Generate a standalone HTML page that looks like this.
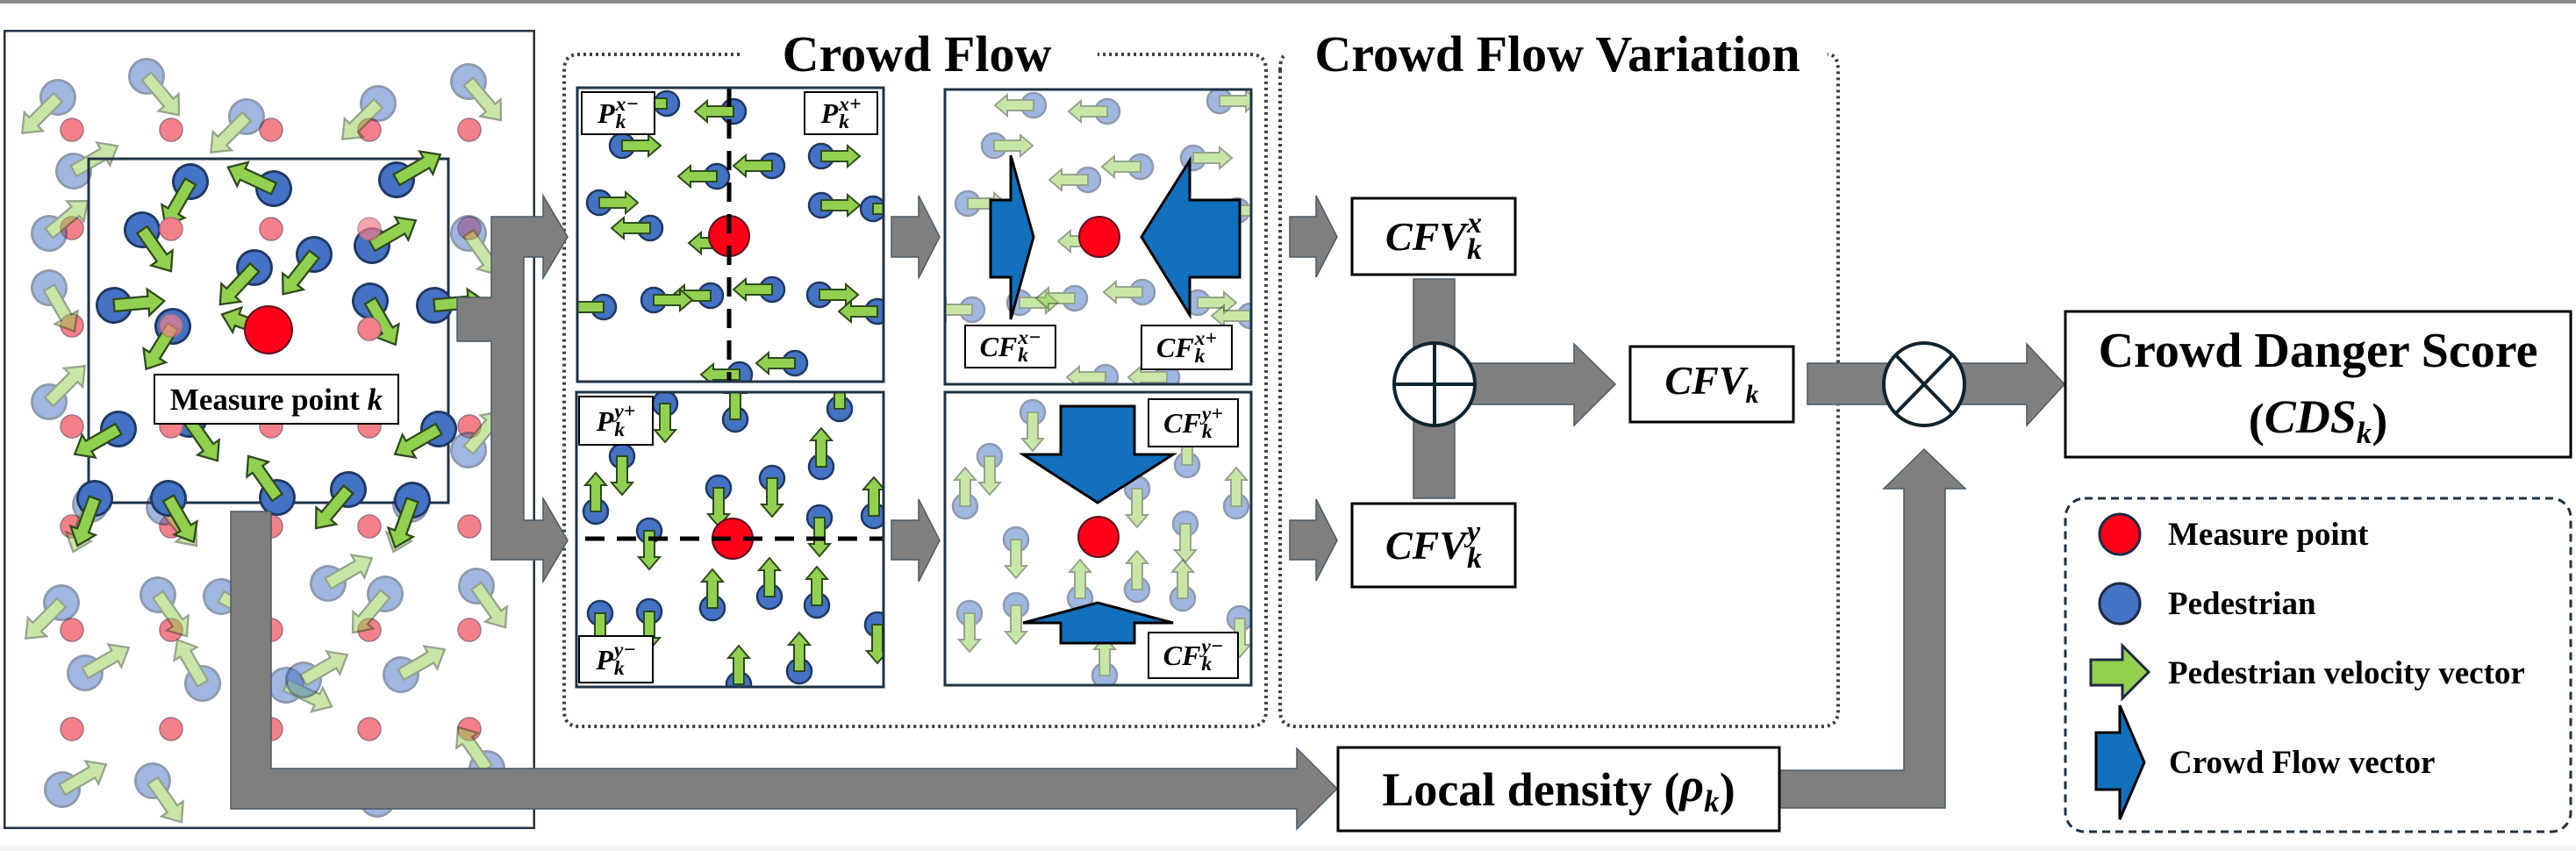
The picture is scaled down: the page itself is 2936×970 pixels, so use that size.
<!DOCTYPE html>
<html><head><meta charset="utf-8">
<style>
html,body{margin:0;padding:0;background:#fff;}
#root{position:relative;width:2936px;height:970px;overflow:hidden;background:#fff;font-family:"Liberation Serif",serif;}
svg{position:absolute;left:0;top:0;}
.t{position:absolute;display:flex;align-items:center;justify-content:center;font-weight:bold;color:#000;white-space:nowrap;line-height:1;}
.m{font-style:italic;font-weight:bold;}
.ss{display:inline-flex;flex-direction:column;font-size:.74em;line-height:.86;vertical-align:middle;margin-left:1px;text-align:left;}
.lg{position:absolute;font-weight:bold;font-size:37px;line-height:1;white-space:nowrap;}
</style></head><body><div id="root">
<svg width="2936" height="970" viewBox="0 0 2936 970" xmlns="http://www.w3.org/2000/svg">
<defs>
<g id="pd"><g transform="scale(1.15)"><circle cx="0" cy="0" r="17" fill="#4472c4" stroke="#1f3864" stroke-width="2.5"/><path d="M0,-6 H34 V-13 L50,0 L34,13 V6 H0 Z" fill="#92d050" stroke="#2f4a1e" stroke-width="2"/></g></g>
<g id="pf" opacity="0.5"><g transform="scale(1.15)"><circle cx="0" cy="0" r="17" fill="#4472c4" stroke="#1f3864" stroke-width="2.5"/><path d="M0,-6 H34 V-13 L50,0 L34,13 V6 H0 Z" fill="#92d050" stroke="#2f4a1e" stroke-width="2"/></g></g>
<g id="ps"><circle cx="0" cy="0" r="14" fill="#4472c4" stroke="#1f3864" stroke-width="2.5"/><path d="M0,-6 H30 V-12 L44,0 L30,12 V6 H0 Z" fill="#92d050" stroke="#2f4a1e" stroke-width="2"/></g>
<g id="psf" opacity="0.5"><circle cx="0" cy="0" r="14" fill="#4472c4" stroke="#1f3864" stroke-width="2.5"/><path d="M0,-6 H30 V-12 L44,0 L30,12 V6 H0 Z" fill="#92d050" stroke="#2f4a1e" stroke-width="2"/></g>
<circle id="pk" r="13" fill="#f4808a" stroke="#a07080" stroke-width="1.5"/>
</defs>
<rect x="0" y="0" width="2936" height="4" fill="#8a8a8a"/>
<rect x="0" y="964" width="2936" height="6" fill="#f2f2f2"/>

<svg x="4" y="34" width="606" height="911" viewBox="4 34 606 911">
<g>
<use href="#pk" x="82" y="148"/><use href="#pk" x="195" y="148"/><use href="#pk" x="309" y="148"/><use href="#pk" x="421" y="148"/><use href="#pk" x="535" y="148"/>
<use href="#pk" x="82" y="260"/><use href="#pk" x="535" y="260"/>
<use href="#pk" x="82" y="371"/><use href="#pk" x="535" y="371"/>
<use href="#pk" x="82" y="486"/><use href="#pk" x="535" y="486"/>
<use href="#pk" x="82" y="600"/><use href="#pk" x="195" y="600"/><use href="#pk" x="309" y="600"/><use href="#pk" x="421" y="600"/><use href="#pk" x="535" y="600"/>
<use href="#pk" x="82" y="718"/><use href="#pk" x="195" y="718"/><use href="#pk" x="309" y="718"/><use href="#pk" x="421" y="718"/><use href="#pk" x="535" y="718"/>
<use href="#pk" x="82" y="831"/><use href="#pk" x="195" y="831"/><use href="#pk" x="309" y="831"/><use href="#pk" x="421" y="831"/><use href="#pk" x="535" y="831"/>
</g>
<g>
<use href="#pf" transform="translate(66,111) rotate(135)"/>
<use href="#pf" transform="translate(167,87) rotate(50)"/>
<use href="#pf" transform="translate(431,118) rotate(135)"/>
<use href="#pf" transform="translate(534,93) rotate(50)"/>
<use href="#pf" transform="translate(281,133) rotate(135)"/>
<use href="#pf" transform="translate(84,195) rotate(-30)"/>
<use href="#pf" transform="translate(56,266) rotate(-40)"/>
<use href="#pf" transform="translate(56,328) rotate(60)"/>
<use href="#pf" transform="translate(534,266) rotate(55)"/>
<use href="#pf" transform="translate(56,458) rotate(-45)"/>
<use href="#pf" transform="translate(534,513) rotate(-50)"/>
<use href="#pf" transform="translate(103,575) rotate(110)"/>
<use href="#pf" transform="translate(187,578) rotate(50)"/>
<use href="#pf" transform="translate(468,575) rotate(110)"/>
<use href="#pf" transform="translate(70,687) rotate(135)"/>
<use href="#pf" transform="translate(180,678) rotate(55)"/>
<use href="#pf" transform="translate(252,680) rotate(30)"/>
<use href="#pf" transform="translate(374,665) rotate(-30)"/>
<use href="#pf" transform="translate(439,677) rotate(130)"/>
<use href="#pf" transform="translate(543,668) rotate(55)"/>
<use href="#pf" transform="translate(97,767) rotate(-30)"/>
<use href="#pf" transform="translate(231,779) rotate(-120)"/>
<use href="#pf" transform="translate(326,781) rotate(25)"/>
<use href="#pf" transform="translate(346,775) rotate(-30)"/>
<use href="#pf" transform="translate(457,769) rotate(-30)"/>
<use href="#pf" transform="translate(555,876) rotate(-125)"/>
<use href="#pf" transform="translate(71,900) rotate(-30)"/>
<use href="#pf" transform="translate(174,890) rotate(55)"/>
<use href="#pf" transform="translate(430,911) rotate(-30)"/>
</g>
<rect x="101" y="181" width="410" height="392" fill="none" stroke="#1f3344" stroke-width="3"/>
<g>
<use href="#pd" transform="translate(217,207) rotate(120)"/>
<use href="#pd" transform="translate(312,215) rotate(-155)"/>
<use href="#pd" transform="translate(452,205) rotate(-30)"/>
<use href="#pd" transform="translate(162,262) rotate(55)"/>
<use href="#pd" transform="translate(424,280) rotate(-30)"/>
<use href="#pd" transform="translate(358,290) rotate(128)"/>
<use href="#pd" transform="translate(290,305) rotate(133)"/>
<use href="#pd" transform="translate(130,348) rotate(-5)"/>
<use href="#pd" transform="translate(422,343) rotate(60)"/>
<use href="#pd" transform="translate(495,348) rotate(-5)"/>
<use href="#pd" transform="translate(197,372) rotate(122)"/>
<use href="#pd" transform="translate(307,378) rotate(-160)"/>
<use href="#pd" transform="translate(135,489) rotate(150)"/>
<use href="#pd" transform="translate(215,478) rotate(55)"/>
<use href="#pd" transform="translate(500,489) rotate(150)"/>
<use href="#pd" transform="translate(316,567) rotate(-125)"/>
<use href="#pd" transform="translate(397,558) rotate(130)"/>
<use href="#pd" transform="translate(192,568) rotate(60)"/>
<use href="#pd" transform="translate(108,568) rotate(110)"/>
<use href="#pd" transform="translate(470,570) rotate(110)"/>
<use href="#pk" x="195" y="261"/><use href="#pk" x="309" y="261"/><use href="#pk" x="421" y="261" opacity=".7"/>
<use href="#pk" x="195" y="371" opacity=".7"/><use href="#pk" x="421" y="375"/>
<use href="#pk" x="195" y="486"/><use href="#pk" x="309" y="486"/><use href="#pk" x="421" y="486"/>
<circle cx="306" cy="376" r="27" fill="#ff0018" stroke="#5a1020" stroke-width="2"/>
</g>
<rect x="4" y="34" width="606" height="911" fill="none" stroke="#1f3344" stroke-width="5"/>
</svg>
<rect x="176" y="427" width="278" height="56" fill="#fff" stroke="#000" stroke-width="2"/>

<path d="M843,62 H660 Q643,62 643,80 V810 Q643,828 660,828 H1425 Q1443,828 1443,810 V80 Q1443,62 1425,62 H1251" fill="none" stroke="#404040" stroke-width="4" stroke-dasharray="3 4"/>
<path d="M1459,80 V810 Q1459,828 1477,828 H2077 Q2095,828 2095,810 V80 Q2095,62 2083,62" fill="none" stroke="#404040" stroke-width="4" stroke-dasharray="3 4"/>
<path d="M1459,80 Q1459,64 1466,62" fill="none" stroke="#404040" stroke-width="4" stroke-dasharray="3 4"/>

<svg x="658" y="100" width="349" height="335" viewBox="658 100 349 335">
<use href="#ps" transform="translate(760,118) rotate(180)"/>
<use href="#ps" transform="translate(836,127) rotate(180)"/>
<use href="#ps" transform="translate(709,166)"/>
<use href="#ps" transform="translate(936,178)"/>
<use href="#ps" transform="translate(817,201) rotate(180)"/>
<use href="#ps" transform="translate(880,189) rotate(180)"/>
<use href="#ps" transform="translate(683,231)"/>
<use href="#ps" transform="translate(936,234)"/>
<use href="#ps" transform="translate(995,238)"/>
<use href="#ps" transform="translate(741,260) rotate(180)"/>
<use href="#ps" transform="translate(829,277) rotate(180)"/>
<use href="#ps" transform="translate(880,330) rotate(180)"/>
<use href="#ps" transform="translate(810,337) rotate(180)"/>
<use href="#ps" transform="translate(745,342)"/>
<use href="#ps" transform="translate(688,350) rotate(180)"/>
<use href="#ps" transform="translate(934,336)"/>
<use href="#ps" transform="translate(1000,355) rotate(180)"/>
<use href="#ps" transform="translate(843,427) rotate(180)"/>
<use href="#ps" transform="translate(906,414) rotate(180)"/>
<circle cx="831" cy="269" r="23" fill="#ff0018" stroke="#5a1020" stroke-width="2"/>
<line x1="831" y1="100" x2="831" y2="435" stroke="#000" stroke-width="5" stroke-dasharray="22 14"/>
<rect x="663" y="105" width="83" height="48" fill="#fff" stroke="#000" stroke-width="2"/>
<rect x="917" y="105" width="83" height="48" fill="#fff" stroke="#000" stroke-width="2"/>
</svg>
<rect x="658" y="100" width="349" height="335" fill="none" stroke="#1f3344" stroke-width="3"/>

<svg x="1077" y="102" width="349" height="336" viewBox="1077 102 349 336">
<use href="#psf" transform="translate(1178,120) rotate(180)"/>
<use href="#psf" transform="translate(1262,127) rotate(180)"/>
<use href="#psf" transform="translate(1390,115)"/>
<use href="#psf" transform="translate(1133,166)"/>
<use href="#psf" transform="translate(1300,190) rotate(180)"/>
<use href="#psf" transform="translate(1240,205) rotate(180)"/>
<use href="#psf" transform="translate(1360,180)"/>
<use href="#psf" transform="translate(1103,232)"/>
<use href="#psf" transform="translate(1250,275) rotate(180)"/>
<use href="#psf" transform="translate(1108,353) rotate(180)"/>
<use href="#psf" transform="translate(1162,345)"/>
<use href="#psf" transform="translate(1225,340) rotate(180)"/>
<use href="#psf" transform="translate(1302,333) rotate(180)"/>
<use href="#psf" transform="translate(1365,345)"/>
<use href="#psf" transform="translate(1425,360) rotate(180)"/>
<use href="#psf" transform="translate(1410,240)"/>
<use href="#psf" transform="translate(1260,430) rotate(180)"/>
<use href="#psf" transform="translate(1330,430) rotate(180)"/>
<circle cx="1253" cy="270" r="23" fill="#ff0018" stroke="#5a1020" stroke-width="2"/>
<path d="M1129,228 H1152 V177 L1178,270 L1152,364 V316 H1129 Z" fill="#1270bd" stroke="#000" stroke-width="3"/>
<path d="M1413,228 H1356 V183 L1301,270 L1356,359 V316 H1413 Z" fill="#1270bd" stroke="#000" stroke-width="3"/>
<rect x="1100" y="371" width="103" height="48" fill="#fff" stroke="#000" stroke-width="2"/>
<rect x="1301" y="371" width="103" height="50" fill="#fff" stroke="#000" stroke-width="2"/>
</svg>
<rect x="1077" y="102" width="349" height="336" fill="none" stroke="#1f3344" stroke-width="3"/>

<svg x="657" y="447" width="350" height="336" viewBox="657 447 350 336">
<use href="#ps" transform="translate(758,460) rotate(90)"/>
<use href="#ps" transform="translate(838,478) rotate(-90)"/>
<use href="#ps" transform="translate(957,466) rotate(-90)"/>
<use href="#ps" transform="translate(709,520) rotate(90)"/>
<use href="#ps" transform="translate(936,532) rotate(-90)"/>
<use href="#ps" transform="translate(819,556) rotate(90)"/>
<use href="#ps" transform="translate(880,545) rotate(90)"/>
<use href="#ps" transform="translate(679,583) rotate(-90)"/>
<use href="#ps" transform="translate(996,588) rotate(-90)"/>
<use href="#ps" transform="translate(740,605) rotate(90)"/>
<use href="#ps" transform="translate(934,590) rotate(90)"/>
<use href="#ps" transform="translate(812,693) rotate(-90)"/>
<use href="#ps" transform="translate(877,680) rotate(-90)"/>
<use href="#ps" transform="translate(931,690) rotate(-90)"/>
<use href="#ps" transform="translate(684,699) rotate(90)"/>
<use href="#ps" transform="translate(740,697) rotate(90)"/>
<use href="#ps" transform="translate(1000,712) rotate(90)"/>
<use href="#ps" transform="translate(842,780) rotate(-90)"/>
<use href="#ps" transform="translate(911,765) rotate(-90)"/>
<circle cx="835" cy="614" r="23" fill="#ff0018" stroke="#5a1020" stroke-width="2"/>
<line x1="667" y1="614" x2="1006" y2="614" stroke="#000" stroke-width="5" stroke-dasharray="22 14"/>
<rect x="660" y="452" width="84" height="55" fill="#fff" stroke="#000" stroke-width="2"/>
<rect x="660" y="725" width="84" height="53" fill="#fff" stroke="#000" stroke-width="2"/>
</svg>
<rect x="657" y="447" width="350" height="336" fill="none" stroke="#1f3344" stroke-width="3"/>

<svg x="1077" y="447" width="349" height="334" viewBox="1077 447 349 334">
<use href="#psf" transform="translate(1177,470) rotate(90)"/>
<use href="#psf" transform="translate(1128,520) rotate(90)"/>
<use href="#psf" transform="translate(1353,530) rotate(-90)"/>
<use href="#psf" transform="translate(1100,577) rotate(-90)"/>
<use href="#psf" transform="translate(1296,557) rotate(90)"/>
<use href="#psf" transform="translate(1409,577) rotate(-90)"/>
<use href="#psf" transform="translate(1158,615) rotate(90)"/>
<use href="#psf" transform="translate(1351,597) rotate(90)"/>
<use href="#psf" transform="translate(1105,699) rotate(90)"/>
<use href="#psf" transform="translate(1158,690) rotate(90)"/>
<use href="#psf" transform="translate(1231,682) rotate(-90)"/>
<use href="#psf" transform="translate(1296,672) rotate(-90)"/>
<use href="#psf" transform="translate(1348,682) rotate(-90)"/>
<use href="#psf" transform="translate(1413,705) rotate(90)"/>
<use href="#psf" transform="translate(1259,770) rotate(-90)"/>
<use href="#psf" transform="translate(1244,540) rotate(-90)"/>
<circle cx="1252" cy="612" r="23" fill="#ff0018" stroke="#5a1020" stroke-width="2"/>
<path d="M1209,463 H1293 V518 H1337 L1251,573 L1166,518 H1209 Z" fill="#1270bd" stroke="#000" stroke-width="3"/>
<path d="M1209,733 H1293 V710 H1337 L1251,687 L1166,710 H1209 Z" fill="#1270bd" stroke="#000" stroke-width="3"/>
<rect x="1309" y="455" width="102" height="54" fill="#fff" stroke="#000" stroke-width="2"/>
<rect x="1309" y="721" width="102" height="52" fill="#fff" stroke="#000" stroke-width="2"/>
</svg>
<rect x="1077" y="447" width="349" height="334" fill="none" stroke="#1f3344" stroke-width="3"/>

<g fill="#7f7f7f" stroke="#4a5a66" stroke-width="1.5">
<path d="M521,339 H560 V247 H619 V223 L647,270 L619,317 V293 H597 V593 H619 V568 L647,616 L619,663 V638 H560 V389 H521 Z"/>
<path d="M1016,247 H1047 V223 L1071,270 L1047,317 V293 H1016 Z"/>
<path d="M1016,593 H1047 V569 L1071,616 L1047,663 V638 H1016 Z"/>
<path d="M1470,247 H1500 V223 L1524,270 L1500,316 V293 H1470 Z"/>
<path d="M1470,593 H1500 V569 L1524,616 L1500,662 V638 H1470 Z"/>
<path d="M263,583 H309 V876 H1478 V853 L1524,899 L1478,945 V922 H263 Z"/>
<path d="M2028,878 H2170 V557 H2147 L2193,512 L2240,557 H2217 V921 H2028 Z"/>
<rect x="1611" y="318" width="47" height="250"/>
<path d="M1658,414 H1794 V392 L1841,438 L1794,485 V461 H1658 Z"/>
<rect x="2060" y="414" width="100" height="47"/>
<path d="M2225,414 H2310 V392 L2353,438 L2310,485 V461 H2225 Z"/>
</g>
<g fill="#fff" stroke="#10242f" stroke-width="4">
<ellipse cx="1635" cy="438" rx="46" ry="47"/>
<line x1="1589" y1="438" x2="1681" y2="438"/><line x1="1635" y1="391" x2="1635" y2="485"/>
<ellipse cx="2193" cy="438" rx="46" ry="47"/>
<line x1="2160" y1="404" x2="2226" y2="472"/><line x1="2226" y1="404" x2="2160" y2="472"/>
</g>

<g fill="#fff" stroke="#000" stroke-width="3">
<rect x="1541" y="226" width="186" height="87"/>
<rect x="1541" y="574" width="186" height="95"/>
<rect x="1858" y="395" width="186" height="86"/>
<rect x="2354" y="355" width="576" height="166"/>
<rect x="1525" y="852" width="503" height="95"/>
</g>
<rect x="2354" y="568" width="576" height="380" rx="22" fill="none" stroke="#1f3344" stroke-width="3" stroke-dasharray="9 6"/>
<circle cx="2416" cy="609" r="23" fill="#ff0018" stroke="#1f2a44" stroke-width="3"/>
<circle cx="2416" cy="688" r="23" fill="#4472c4" stroke="#1f2a44" stroke-width="3"/>
<path d="M2383,752 H2419 V736 L2449,766 L2419,796 V781 H2383 Z" fill="#92d050" stroke="#1f2a44" stroke-width="3"/>
<path d="M2389,835 H2416 V804 L2444,869 L2416,934 V900 H2389 Z" fill="#1270bd" stroke="#000" stroke-width="3"/>
</svg>

<div class="t" style="left:176px;top:427px;width:278px;height:56px;font-size:35px;">Measure point&nbsp;<span class="m">k</span></div>
<div class="t" style="left:860px;top:32px;width:370px;height:60px;font-size:58px;">Crowd Flow</div>
<div class="t" style="left:1480px;top:32px;width:590px;height:60px;font-size:58px;">Crowd Flow Variation</div>

<div class="t" style="left:663px;top:105px;width:83px;height:48px;font-size:32px;"><span class="m">P</span><span class="ss m"><span>x−</span><span>k</span></span></div>
<div class="t" style="left:917px;top:105px;width:83px;height:48px;font-size:32px;"><span class="m">P</span><span class="ss m"><span>x+</span><span>k</span></span></div>
<div class="t" style="left:660px;top:452px;width:84px;height:55px;font-size:32px;"><span class="m">P</span><span class="ss m"><span>y+</span><span>k</span></span></div>
<div class="t" style="left:660px;top:725px;width:84px;height:53px;font-size:32px;"><span class="m">P</span><span class="ss m"><span>y−</span><span>k</span></span></div>
<div class="t" style="left:1100px;top:371px;width:103px;height:48px;font-size:32px;"><span class="m">CF</span><span class="ss m"><span>x−</span><span>k</span></span></div>
<div class="t" style="left:1301px;top:371px;width:103px;height:50px;font-size:32px;"><span class="m">CF</span><span class="ss m"><span>x+</span><span>k</span></span></div>
<div class="t" style="left:1309px;top:455px;width:102px;height:54px;font-size:32px;"><span class="m">CF</span><span class="ss m"><span>y+</span><span>k</span></span></div>
<div class="t" style="left:1309px;top:721px;width:102px;height:52px;font-size:32px;"><span class="m">CF</span><span class="ss m"><span>y−</span><span>k</span></span></div>

<div class="t" style="left:1541px;top:226px;width:186px;height:87px;font-size:46px;"><span class="m">CFV</span><span class="ss m"><span>x</span><span>k</span></span></div>
<div class="t" style="left:1541px;top:574px;width:186px;height:95px;font-size:46px;"><span class="m">CFV</span><span class="ss m"><span>y</span><span>k</span></span></div>
<div class="t" style="left:1858px;top:395px;width:186px;height:86px;font-size:46px;"><span class="m">CFV<sub style="font-size:.65em;">k</sub></span></div>
<div class="t" style="left:2354px;top:365px;width:576px;height:70px;font-size:56px;">Crowd Danger Score</div>
<div class="t" style="left:2354px;top:445px;width:576px;height:68px;font-size:54px;">(<span class="m">CDS<sub style="font-size:.65em;">k</sub></span>)</div>
<div class="t" style="left:1525px;top:852px;width:503px;height:95px;font-size:54px;">Local density (<span class="m">ρ<sub style="font-size:.65em;">k</sub></span>)</div>

<div class="lg" style="left:2471px;top:591px;">Measure point</div>
<div class="lg" style="left:2471px;top:670px;">Pedestrian</div>
<div class="lg" style="left:2471px;top:749px;">Pedestrian velocity vector</div>
<div class="lg" style="left:2472px;top:851px;">Crowd Flow vector</div>
</div></body></html>
